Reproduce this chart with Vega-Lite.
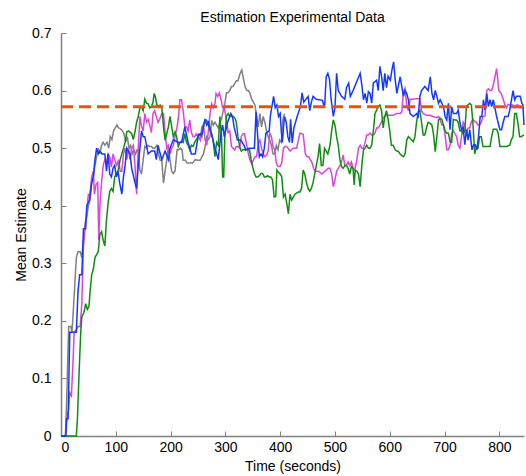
{
  "$schema": "https://vega.github.io/schema/vega-lite/v6.json",
  "width": 463,
  "height": 403,
  "autosize": {"type": "none"},
  "padding": {"left": 61, "top": 33, "right": 2, "bottom": 40},
  "background": "white",
  "config": {
    "font": "Liberation Sans",
    "view": {"stroke": null},
    "axis": {
      "grid": false,
      "domainColor": "#808080",
      "domainWidth": 1.5,
      "tickColor": "#808080",
      "tickWidth": 1,
      "tickSize": -5,
      "labelFontSize": 14,
      "labelColor": "black",
      "titleFontSize": 14,
      "titleFontWeight": "normal",
      "titleColor": "black",
      "labelFont": "Liberation Sans",
      "titleFont": "Liberation Sans"
    },
    "title": {"fontSize": 14, "fontWeight": "normal", "font": "Liberation Sans", "color": "black"}
  },
  "title": {"text": "Estimation Experimental Data", "anchor": "middle", "offset": 1},
  "datasets": {
    "gray": [
      {"t":0,"v":0},{"t":8,"v":0},{"t":10,"v":0.05},{"t":12,"v":0.12},{"t":14,"v":0.19},{"t":18,"v":0.19},{"t":20,"v":0.18},{"t":22,"v":0.21},{"t":25,"v":0.26},{"t":28,"v":0.31},{"t":31,"v":0.32},{"t":35,"v":0.32},{"t":38,"v":0.31},{"t":41,"v":0.34},{"t":44,"v":0.37},{"t":47,"v":0.38},{"t":50,"v":0.40},{"t":53,"v":0.41},{"t":56,"v":0.44},{"t":59,"v":0.45},{"t":62,"v":0.47},{"t":65,"v":0.485},{"t":68,"v":0.50},{"t":71,"v":0.49},{"t":74,"v":0.505},{"t":77,"v":0.51},{"t":80,"v":0.505},{"t":84,"v":0.51},{"t":87,"v":0.50},{"t":90,"v":0.52},{"t":93,"v":0.515},{"t":96,"v":0.53},{"t":99,"v":0.535},{"t":102,"v":0.54},{"t":105,"v":0.535},{"t":108,"v":0.534},{"t":112,"v":0.53},{"t":115,"v":0.525},{"t":118,"v":0.51},{"t":121,"v":0.52},{"t":124,"v":0.50},{"t":127,"v":0.505},{"t":130,"v":0.49},{"t":133,"v":0.497},{"t":136,"v":0.49},{"t":139,"v":0.497},{"t":141,"v":0.497},{"t":144,"v":0.462},{"t":147,"v":0.455},{"t":150,"v":0.48},{"t":153,"v":0.503},{"t":156,"v":0.50},{"t":159,"v":0.505},{"t":162,"v":0.503},{"t":165,"v":0.503},{"t":168,"v":0.50},{"t":171,"v":0.50},{"t":175,"v":0.505},{"t":178,"v":0.49},{"t":181,"v":0.479},{"t":184,"v":0.479},{"t":187,"v":0.439},{"t":190,"v":0.46},{"t":193,"v":0.479},{"t":196,"v":0.503},{"t":199,"v":0.479},{"t":202,"v":0.46},{"t":205,"v":0.456},{"t":208,"v":0.46},{"t":212,"v":0.497},{"t":215,"v":0.497},{"t":218,"v":0.50},{"t":221,"v":0.497},{"t":223,"v":0.479},{"t":227,"v":0.479},{"t":230,"v":0.474},{"t":235,"v":0.474},{"t":240,"v":0.474},{"t":245,"v":0.48},{"t":250,"v":0.479},{"t":254,"v":0.479},{"t":257,"v":0.485},{"t":260,"v":0.49},{"t":263,"v":0.503},{"t":266,"v":0.52},{"t":269,"v":0.515},{"t":272,"v":0.52},{"t":275,"v":0.548},{"t":278,"v":0.54},{"t":281,"v":0.545},{"t":284,"v":0.54},{"t":287,"v":0.535},{"t":290,"v":0.545},{"t":293,"v":0.55},{"t":296,"v":0.565},{"t":299,"v":0.577},{"t":302,"v":0.596},{"t":305,"v":0.596},{"t":308,"v":0.60},{"t":311,"v":0.607},{"t":314,"v":0.607},{"t":317,"v":0.612},{"t":320,"v":0.617},{"t":323,"v":0.617},{"t":327,"v":0.63},{"t":330,"v":0.636},{"t":333,"v":0.62},{"t":336,"v":0.607},{"t":339,"v":0.60},{"t":342,"v":0.60},{"t":345,"v":0.595},{"t":348,"v":0.585},{"t":351,"v":0.58},{"t":354,"v":0.575},{"t":357,"v":0.555},{"t":360,"v":0.537},{"t":363,"v":0.56},{"t":366,"v":0.537},{"t":369,"v":0.555},{"t":372,"v":0.545},{"t":375,"v":0.531},{"t":378,"v":0.52},{"t":381,"v":0.514},{"t":384,"v":0.505},{"t":387,"v":0.49},{"t":390,"v":0.49},{"t":393,"v":0.505},{"t":396,"v":0.497},{"t":399,"v":0.514},{"t":402,"v":0.51},{"t":405,"v":0.55},{"t":408,"v":0.56}
    ],
    "magenta": [
      {"t":0,"v":0},{"t":8,"v":0},{"t":10,"v":0.02},{"t":12,"v":0.04},{"t":14,"v":0.045},{"t":16,"v":0.075},{"t":19,"v":0.07},{"t":22,"v":0.13},{"t":24,"v":0.18},{"t":28,"v":0.185},{"t":31,"v":0.19},{"t":35,"v":0.19},{"t":38,"v":0.23},{"t":40,"v":0.30},{"t":41,"v":0.33},{"t":44,"v":0.36},{"t":47,"v":0.39},{"t":50,"v":0.42},{"t":53,"v":0.42},{"t":56,"v":0.45},{"t":59,"v":0.46},{"t":61,"v":0.42},{"t":64,"v":0.437},{"t":67,"v":0.44},{"t":69,"v":0.34},{"t":71,"v":0.40},{"t":74,"v":0.44},{"t":77,"v":0.47},{"t":80,"v":0.48},{"t":83,"v":0.475},{"t":86,"v":0.49},{"t":89,"v":0.485},{"t":92,"v":0.467},{"t":95,"v":0.49},{"t":98,"v":0.48},{"t":102,"v":0.47},{"t":105,"v":0.48},{"t":108,"v":0.46},{"t":111,"v":0.46},{"t":114,"v":0.49},{"t":117,"v":0.50},{"t":120,"v":0.48},{"t":123,"v":0.50},{"t":126,"v":0.48},{"t":129,"v":0.50},{"t":132,"v":0.505},{"t":135,"v":0.47},{"t":138,"v":0.42},{"t":141,"v":0.50},{"t":144,"v":0.555},{"t":147,"v":0.537},{"t":150,"v":0.53},{"t":153,"v":0.56},{"t":156,"v":0.545},{"t":159,"v":0.55},{"t":162,"v":0.54},{"t":165,"v":0.527},{"t":168,"v":0.56},{"t":171,"v":0.565},{"t":174,"v":0.555},{"t":177,"v":0.545},{"t":180,"v":0.55},{"t":184,"v":0.56},{"t":187,"v":0.56},{"t":190,"v":0.527},{"t":193,"v":0.50},{"t":196,"v":0.505},{"t":199,"v":0.49},{"t":202,"v":0.50},{"t":205,"v":0.505},{"t":208,"v":0.52},{"t":212,"v":0.537},{"t":215,"v":0.56},{"t":217,"v":0.584},{"t":220,"v":0.584},{"t":223,"v":0.565},{"t":226,"v":0.537},{"t":229,"v":0.537},{"t":232,"v":0.53},{"t":235,"v":0.549},{"t":238,"v":0.527},{"t":241,"v":0.52},{"t":244,"v":0.52},{"t":247,"v":0.525},{"t":251,"v":0.52},{"t":254,"v":0.514},{"t":257,"v":0.537},{"t":260,"v":0.54},{"t":263,"v":0.514},{"t":266,"v":0.505},{"t":269,"v":0.53},{"t":272,"v":0.56},{"t":275,"v":0.577},{"t":278,"v":0.57},{"t":281,"v":0.577},{"t":283,"v":0.595},{"t":286,"v":0.59},{"t":289,"v":0.596},{"t":292,"v":0.585},{"t":295,"v":0.57},{"t":298,"v":0.57},{"t":302,"v":0.549},{"t":305,"v":0.527},{"t":308,"v":0.53},{"t":311,"v":0.503},{"t":314,"v":0.50},{"t":317,"v":0.497},{"t":320,"v":0.503},{"t":323,"v":0.503},{"t":326,"v":0.50},{"t":329,"v":0.52},{"t":332,"v":0.525},{"t":335,"v":0.525},{"t":339,"v":0.505},{"t":342,"v":0.49},{"t":345,"v":0.479},{"t":348,"v":0.473},{"t":351,"v":0.479},{"t":354,"v":0.485},{"t":357,"v":0.485},{"t":360,"v":0.508},{"t":363,"v":0.514},{"t":366,"v":0.50},{"t":369,"v":0.49},{"t":372,"v":0.485},{"t":375,"v":0.487},{"t":378,"v":0.495},{"t":381,"v":0.526},{"t":384,"v":0.52},{"t":387,"v":0.503},{"t":390,"v":0.497},{"t":393,"v":0.474},{"t":396,"v":0.468},{"t":400,"v":0.468},{"t":403,"v":0.475},{"t":406,"v":0.50},{"t":409,"v":0.503},{"t":412,"v":0.503},{"t":418,"v":0.495},{"t":424,"v":0.50},{"t":430,"v":0.50},{"t":436,"v":0.526},{"t":442,"v":0.524},{"t":446,"v":0.49},{"t":449,"v":0.485},{"t":452,"v":0.485},{"t":455,"v":0.48},{"t":458,"v":0.475},{"t":461,"v":0.465},{"t":464,"v":0.46},{"t":470,"v":0.46},{"t":476,"v":0.455},{"t":482,"v":0.46},{"t":488,"v":0.465},{"t":491,"v":0.465},{"t":494,"v":0.455},{"t":497,"v":0.433},{"t":500,"v":0.445},{"t":503,"v":0.46},{"t":509,"v":0.47},{"t":512,"v":0.476},{"t":515,"v":0.488},{"t":518,"v":0.47},{"t":521,"v":0.47},{"t":524,"v":0.476},{"t":527,"v":0.47},{"t":530,"v":0.476},{"t":533,"v":0.465},{"t":536,"v":0.462},{"t":540,"v":0.48},{"t":543,"v":0.50},{"t":546,"v":0.505},{"t":549,"v":0.50},{"t":552,"v":0.50},{"t":555,"v":0.51},{"t":558,"v":0.523},{"t":561,"v":0.523},{"t":564,"v":0.526},{"t":567,"v":0.523},{"t":570,"v":0.523},{"t":573,"v":0.526},{"t":576,"v":0.535},{"t":579,"v":0.535},{"t":582,"v":0.54},{"t":585,"v":0.546},{"t":588,"v":0.553},{"t":591,"v":0.555},{"t":594,"v":0.557},{"t":600,"v":0.557},{"t":606,"v":0.557},{"t":613,"v":0.56},{"t":619,"v":0.56},{"t":622,"v":0.563},{"t":625,"v":0.598},{"t":628,"v":0.604},{"t":631,"v":0.574},{"t":634,"v":0.565},{"t":637,"v":0.585},{"t":643,"v":0.585},{"t":649,"v":0.586},{"t":655,"v":0.586},{"t":658,"v":0.565},{"t":661,"v":0.56},{"t":667,"v":0.557},{"t":673,"v":0.557},{"t":679,"v":0.555},{"t":685,"v":0.553},{"t":689,"v":0.555},{"t":692,"v":0.55},{"t":695,"v":0.54},{"t":698,"v":0.54},{"t":701,"v":0.523},{"t":704,"v":0.497},{"t":707,"v":0.497},{"t":710,"v":0.505},{"t":713,"v":0.525},{"t":716,"v":0.53},{"t":719,"v":0.525},{"t":722,"v":0.52},{"t":725,"v":0.505},{"t":728,"v":0.50},{"t":731,"v":0.52},{"t":734,"v":0.545},{"t":737,"v":0.54},{"t":740,"v":0.525},{"t":743,"v":0.535},{"t":746,"v":0.535},{"t":749,"v":0.546},{"t":752,"v":0.55},{"t":755,"v":0.546},{"t":758,"v":0.545},{"t":761,"v":0.54},{"t":764,"v":0.54},{"t":767,"v":0.545},{"t":770,"v":0.555},{"t":774,"v":0.556},{"t":777,"v":0.60},{"t":780,"v":0.603},{"t":783,"v":0.60},{"t":786,"v":0.60},{"t":789,"v":0.61},{"t":792,"v":0.624},{"t":795,"v":0.638},{"t":797,"v":0.62},{"t":799,"v":0.60},{"t":801,"v":0.598},{"t":804,"v":0.594},{"t":807,"v":0.585},{"t":810,"v":0.576},{"t":813,"v":0.57},{"t":816,"v":0.576},{"t":819,"v":0.575},{"t":822,"v":0.575},{"t":825,"v":0.575},{"t":828,"v":0.57},{"t":831,"v":0.575},{"t":834,"v":0.575},{"t":838,"v":0.57},{"t":845,"v":0.57}
    ],
    "green": [
      {"t":0,"v":0},{"t":28,"v":0},{"t":30,"v":0.03},{"t":33,"v":0.11},{"t":36,"v":0.18},{"t":38,"v":0.207},{"t":42,"v":0.215},{"t":45,"v":0.23},{"t":48,"v":0.22},{"t":51,"v":0.225},{"t":53,"v":0.25},{"t":56,"v":0.28},{"t":59,"v":0.29},{"t":62,"v":0.31},{"t":65,"v":0.315},{"t":68,"v":0.32},{"t":71,"v":0.35},{"t":74,"v":0.355},{"t":77,"v":0.34},{"t":80,"v":0.33},{"t":83,"v":0.375},{"t":86,"v":0.405},{"t":89,"v":0.425},{"t":92,"v":0.43},{"t":95,"v":0.425},{"t":98,"v":0.45},{"t":101,"v":0.455},{"t":104,"v":0.46},{"t":108,"v":0.48},{"t":111,"v":0.49},{"t":114,"v":0.50},{"t":117,"v":0.51},{"t":120,"v":0.528},{"t":123,"v":0.53},{"t":126,"v":0.528},{"t":129,"v":0.525},{"t":132,"v":0.515},{"t":135,"v":0.528},{"t":138,"v":0.545},{"t":141,"v":0.555},{"t":144,"v":0.57},{"t":147,"v":0.572},{"t":150,"v":0.565},{"t":153,"v":0.585},{"t":156,"v":0.578},{"t":159,"v":0.577},{"t":162,"v":0.57},{"t":165,"v":0.572},{"t":168,"v":0.58},{"t":170,"v":0.595},{"t":172,"v":0.59},{"t":175,"v":0.575},{"t":178,"v":0.573},{"t":181,"v":0.575},{"t":184,"v":0.57},{"t":187,"v":0.537},{"t":190,"v":0.514},{"t":193,"v":0.525},{"t":196,"v":0.537},{"t":199,"v":0.555},{"t":202,"v":0.537},{"t":205,"v":0.52},{"t":208,"v":0.528},{"t":211,"v":0.52},{"t":214,"v":0.503},{"t":217,"v":0.51},{"t":220,"v":0.512},{"t":223,"v":0.51},{"t":226,"v":0.525},{"t":229,"v":0.51},{"t":232,"v":0.505},{"t":235,"v":0.497},{"t":238,"v":0.505},{"t":241,"v":0.503},{"t":244,"v":0.51},{"t":247,"v":0.515},{"t":250,"v":0.52},{"t":254,"v":0.525},{"t":257,"v":0.52},{"t":260,"v":0.54},{"t":263,"v":0.55},{"t":266,"v":0.548},{"t":269,"v":0.54},{"t":272,"v":0.53},{"t":275,"v":0.525},{"t":278,"v":0.51},{"t":281,"v":0.485},{"t":284,"v":0.51},{"t":287,"v":0.505},{"t":290,"v":0.555},{"t":293,"v":0.52},{"t":295,"v":0.45},{"t":297,"v":0.45},{"t":299,"v":0.52},{"t":302,"v":0.555},{"t":305,"v":0.56},{"t":308,"v":0.555},{"t":311,"v":0.555},{"t":314,"v":0.555},{"t":317,"v":0.553},{"t":320,"v":0.545},{"t":323,"v":0.52},{"t":326,"v":0.503},{"t":329,"v":0.495},{"t":332,"v":0.497},{"t":335,"v":0.497},{"t":338,"v":0.497},{"t":341,"v":0.497},{"t":344,"v":0.497},{"t":347,"v":0.48},{"t":350,"v":0.467},{"t":353,"v":0.456},{"t":356,"v":0.45},{"t":359,"v":0.45},{"t":362,"v":0.452},{"t":365,"v":0.456},{"t":368,"v":0.456},{"t":371,"v":0.45},{"t":374,"v":0.45},{"t":377,"v":0.452},{"t":380,"v":0.45},{"t":383,"v":0.45},{"t":386,"v":0.445},{"t":389,"v":0.415},{"t":392,"v":0.416},{"t":394,"v":0.462},{"t":397,"v":0.458},{"t":400,"v":0.455},{"t":403,"v":0.45},{"t":406,"v":0.415},{"t":409,"v":0.42},{"t":412,"v":0.404},{"t":415,"v":0.386},{"t":418,"v":0.42},{"t":421,"v":0.41},{"t":424,"v":0.415},{"t":427,"v":0.42},{"t":430,"v":0.422},{"t":433,"v":0.424},{"t":436,"v":0.424},{"t":439,"v":0.43},{"t":442,"v":0.462},{"t":445,"v":0.455},{"t":448,"v":0.44},{"t":451,"v":0.43},{"t":454,"v":0.425},{"t":457,"v":0.43},{"t":460,"v":0.44},{"t":463,"v":0.455},{"t":466,"v":0.47},{"t":469,"v":0.485},{"t":472,"v":0.508},{"t":475,"v":0.47},{"t":478,"v":0.47},{"t":481,"v":0.5},{"t":484,"v":0.495},{"t":487,"v":0.49},{"t":491,"v":0.505},{"t":494,"v":0.531},{"t":497,"v":0.549},{"t":500,"v":0.54},{"t":503,"v":0.52},{"t":506,"v":0.505},{"t":509,"v":0.48},{"t":512,"v":0.468},{"t":515,"v":0.465},{"t":518,"v":0.47},{"t":521,"v":0.47},{"t":524,"v":0.465},{"t":527,"v":0.455},{"t":530,"v":0.468},{"t":533,"v":0.465},{"t":535,"v":0.436},{"t":537,"v":0.462},{"t":540,"v":0.46},{"t":543,"v":0.455},{"t":546,"v":0.433},{"t":549,"v":0.47},{"t":552,"v":0.497},{"t":555,"v":0.50},{"t":558,"v":0.505},{"t":561,"v":0.50},{"t":564,"v":0.50},{"t":567,"v":0.505},{"t":570,"v":0.53},{"t":573,"v":0.56},{"t":576,"v":0.566},{"t":579,"v":0.572},{"t":582,"v":0.575},{"t":585,"v":0.565},{"t":588,"v":0.535},{"t":591,"v":0.555},{"t":594,"v":0.565},{"t":597,"v":0.55},{"t":600,"v":0.53},{"t":603,"v":0.505},{"t":606,"v":0.505},{"t":610,"v":0.497},{"t":613,"v":0.495},{"t":616,"v":0.494},{"t":619,"v":0.49},{"t":622,"v":0.487},{"t":625,"v":0.485},{"t":628,"v":0.49},{"t":631,"v":0.514},{"t":634,"v":0.52},{"t":637,"v":0.517},{"t":640,"v":0.514},{"t":643,"v":0.511},{"t":646,"v":0.52},{"t":649,"v":0.546},{"t":652,"v":0.563},{"t":655,"v":0.566},{"t":658,"v":0.545},{"t":661,"v":0.523},{"t":664,"v":0.523},{"t":667,"v":0.535},{"t":670,"v":0.545},{"t":674,"v":0.543},{"t":677,"v":0.54},{"t":680,"v":0.523},{"t":683,"v":0.494},{"t":686,"v":0.52},{"t":689,"v":0.549},{"t":692,"v":0.552},{"t":695,"v":0.55},{"t":698,"v":0.54},{"t":701,"v":0.53},{"t":704,"v":0.526},{"t":707,"v":0.526},{"t":710,"v":0.511},{"t":713,"v":0.51},{"t":716,"v":0.55},{"t":719,"v":0.549},{"t":722,"v":0.549},{"t":725,"v":0.545},{"t":728,"v":0.53},{"t":731,"v":0.53},{"t":734,"v":0.525},{"t":737,"v":0.53},{"t":740,"v":0.573},{"t":743,"v":0.575},{"t":746,"v":0.578},{"t":749,"v":0.575},{"t":752,"v":0.54},{"t":755,"v":0.49},{"t":758,"v":0.50},{"t":761,"v":0.50},{"t":764,"v":0.52},{"t":767,"v":0.52},{"t":770,"v":0.503},{"t":773,"v":0.503},{"t":777,"v":0.503},{"t":780,"v":0.503},{"t":783,"v":0.503},{"t":786,"v":0.52},{"t":789,"v":0.533},{"t":792,"v":0.533},{"t":795,"v":0.533},{"t":798,"v":0.525},{"t":801,"v":0.503},{"t":807,"v":0.503},{"t":813,"v":0.503},{"t":819,"v":0.505},{"t":822,"v":0.515},{"t":825,"v":0.52},{"t":828,"v":0.56},{"t":831,"v":0.56},{"t":834,"v":0.543},{"t":837,"v":0.52},{"t":840,"v":0.52},{"t":845,"v":0.523}
    ],
    "blue": [
      {"t":0,"v":0},{"t":9,"v":0},{"t":10,"v":0.03},{"t":13,"v":0.03},{"t":16,"v":0.18},{"t":28,"v":0.18},{"t":31,"v":0.25},{"t":34,"v":0.28},{"t":38,"v":0.28},{"t":41,"v":0.36},{"t":45,"v":0.36},{"t":47,"v":0.40},{"t":52,"v":0.41},{"t":56,"v":0.44},{"t":59,"v":0.45},{"t":62,"v":0.48},{"t":65,"v":0.50},{"t":68,"v":0.49},{"t":71,"v":0.495},{"t":75,"v":0.49},{"t":80,"v":0.49},{"t":83,"v":0.46},{"t":86,"v":0.49},{"t":89,"v":0.455},{"t":92,"v":0.45},{"t":95,"v":0.465},{"t":98,"v":0.47},{"t":101,"v":0.45},{"t":104,"v":0.46},{"t":107,"v":0.44},{"t":111,"v":0.42},{"t":114,"v":0.45},{"t":117,"v":0.47},{"t":120,"v":0.50},{"t":126,"v":0.49},{"t":129,"v":0.465},{"t":135,"v":0.44},{"t":138,"v":0.43},{"t":141,"v":0.47},{"t":144,"v":0.50},{"t":147,"v":0.53},{"t":150,"v":0.52},{"t":153,"v":0.52},{"t":159,"v":0.49},{"t":165,"v":0.495},{"t":171,"v":0.495},{"t":174,"v":0.48},{"t":177,"v":0.505},{"t":184,"v":0.48},{"t":190,"v":0.495},{"t":196,"v":0.48},{"t":199,"v":0.50},{"t":205,"v":0.515},{"t":214,"v":0.51},{"t":220,"v":0.51},{"t":226,"v":0.537},{"t":232,"v":0.51},{"t":238,"v":0.49},{"t":245,"v":0.49},{"t":251,"v":0.524},{"t":257,"v":0.524},{"t":263,"v":0.55},{"t":266,"v":0.54},{"t":269,"v":0.545},{"t":275,"v":0.524},{"t":281,"v":0.50},{"t":287,"v":0.48},{"t":292,"v":0.526},{"t":295,"v":0.54},{"t":298,"v":0.52},{"t":304,"v":0.545},{"t":310,"v":0.56},{"t":313,"v":0.555},{"t":316,"v":0.536},{"t":322,"v":0.514},{"t":328,"v":0.514},{"t":334,"v":0.505},{"t":337,"v":0.497},{"t":343,"v":0.50},{"t":349,"v":0.50},{"t":353,"v":0.50},{"t":356,"v":0.563},{"t":359,"v":0.52},{"t":362,"v":0.485},{"t":365,"v":0.49},{"t":368,"v":0.485},{"t":371,"v":0.50},{"t":374,"v":0.526},{"t":380,"v":0.53},{"t":382,"v":0.555},{"t":388,"v":0.59},{"t":391,"v":0.57},{"t":394,"v":0.575},{"t":397,"v":0.555},{"t":400,"v":0.56},{"t":402,"v":0.53},{"t":404,"v":0.51},{"t":406,"v":0.535},{"t":408,"v":0.555},{"t":411,"v":0.545},{"t":414,"v":0.52},{"t":417,"v":0.51},{"t":419,"v":0.55},{"t":422,"v":0.509},{"t":425,"v":0.535},{"t":431,"v":0.555},{"t":437,"v":0.572},{"t":440,"v":0.596},{"t":443,"v":0.58},{"t":451,"v":0.59},{"t":454,"v":0.565},{"t":457,"v":0.58},{"t":460,"v":0.59},{"t":466,"v":0.585},{"t":477,"v":0.583},{"t":481,"v":0.57},{"t":484,"v":0.624},{"t":487,"v":0.63},{"t":490,"v":0.62},{"t":493,"v":0.585},{"t":495,"v":0.57},{"t":497,"v":0.555},{"t":500,"v":0.57},{"t":503,"v":0.63},{"t":506,"v":0.60},{"t":509,"v":0.595},{"t":512,"v":0.59},{"t":518,"v":0.585},{"t":521,"v":0.605},{"t":525,"v":0.613},{"t":528,"v":0.59},{"t":533,"v":0.60},{"t":546,"v":0.63},{"t":549,"v":0.61},{"t":552,"v":0.584},{"t":555,"v":0.595},{"t":558,"v":0.578},{"t":561,"v":0.598},{"t":564,"v":0.595},{"t":567,"v":0.578},{"t":570,"v":0.613},{"t":576,"v":0.618},{"t":579,"v":0.60},{"t":582,"v":0.642},{"t":585,"v":0.625},{"t":588,"v":0.60},{"t":591,"v":0.63},{"t":594,"v":0.605},{"t":597,"v":0.625},{"t":601,"v":0.618},{"t":604,"v":0.636},{"t":607,"v":0.65},{"t":610,"v":0.618},{"t":613,"v":0.595},{"t":616,"v":0.61},{"t":619,"v":0.624},{"t":622,"v":0.607},{"t":625,"v":0.59},{"t":628,"v":0.60},{"t":631,"v":0.595},{"t":634,"v":0.584},{"t":637,"v":0.56},{"t":643,"v":0.555},{"t":649,"v":0.56},{"t":652,"v":0.555},{"t":655,"v":0.59},{"t":658,"v":0.60},{"t":664,"v":0.607},{"t":670,"v":0.60},{"t":674,"v":0.624},{"t":677,"v":0.595},{"t":680,"v":0.584},{"t":683,"v":0.60},{"t":686,"v":0.59},{"t":689,"v":0.578},{"t":692,"v":0.584},{"t":698,"v":0.572},{"t":701,"v":0.555},{"t":704,"v":0.549},{"t":707,"v":0.578},{"t":710,"v":0.532},{"t":713,"v":0.572},{"t":716,"v":0.56},{"t":722,"v":0.56},{"t":725,"v":0.566},{"t":728,"v":0.545},{"t":731,"v":0.532},{"t":734,"v":0.536},{"t":737,"v":0.506},{"t":740,"v":0.532},{"t":743,"v":0.514},{"t":746,"v":0.532},{"t":750,"v":0.497},{"t":753,"v":0.506},{"t":756,"v":0.506},{"t":759,"v":0.497},{"t":762,"v":0.52},{"t":765,"v":0.555},{"t":768,"v":0.555},{"t":771,"v":0.584},{"t":774,"v":0.566},{"t":777,"v":0.595},{"t":780,"v":0.572},{"t":783,"v":0.584},{"t":786,"v":0.572},{"t":789,"v":0.584},{"t":795,"v":0.555},{"t":801,"v":0.532},{"t":804,"v":0.532},{"t":807,"v":0.545},{"t":810,"v":0.555},{"t":816,"v":0.555},{"t":819,"v":0.566},{"t":825,"v":0.60},{"t":828,"v":0.584},{"t":831,"v":0.59},{"t":838,"v":0.59},{"t":841,"v":0.578},{"t":843,"v":0.575},{"t":845,"v":0.54}
    ],
    "target": [{"t":0,"v":0.572},{"t":845,"v":0.572}]
  },
  "encoding": {
    "x": {"field": "t", "type": "quantitative", "scale": {"domain": [0, 845], "nice": false, "zero": false},
      "axis": {"title": "Time (seconds)", "values": [0,100,200,300,400,500,600,700,800], "labelPadding": 9, "titlePadding": 5}},
    "y": {"field": "v", "type": "quantitative", "scale": {"domain": [0, 0.7], "nice": false},
      "axis": {"title": "Mean Estimate", "values": [0,0.1,0.2,0.3,0.4,0.5,0.6,0.7], "format": "~g", "labelPadding": 15, "titlePadding": 3}}
  },
  "layer": [
    {"data": {"name": "gray"}, "mark": {"type": "line", "color": "#808080", "strokeWidth": 1.5}},
    {"data": {"name": "magenta"}, "mark": {"type": "line", "color": "#dd44dd", "strokeWidth": 1.5}},
    {"data": {"name": "green"}, "mark": {"type": "line", "color": "#118c11", "strokeWidth": 1.5}},
    {"data": {"name": "blue"}, "mark": {"type": "line", "color": "#1438ff", "strokeWidth": 1.5}},
    {"data": {"name": "target"}, "mark": {"type": "line", "color": "#e8501c", "strokeWidth": 3, "strokeDash": [12, 6]}}
  ]
}
